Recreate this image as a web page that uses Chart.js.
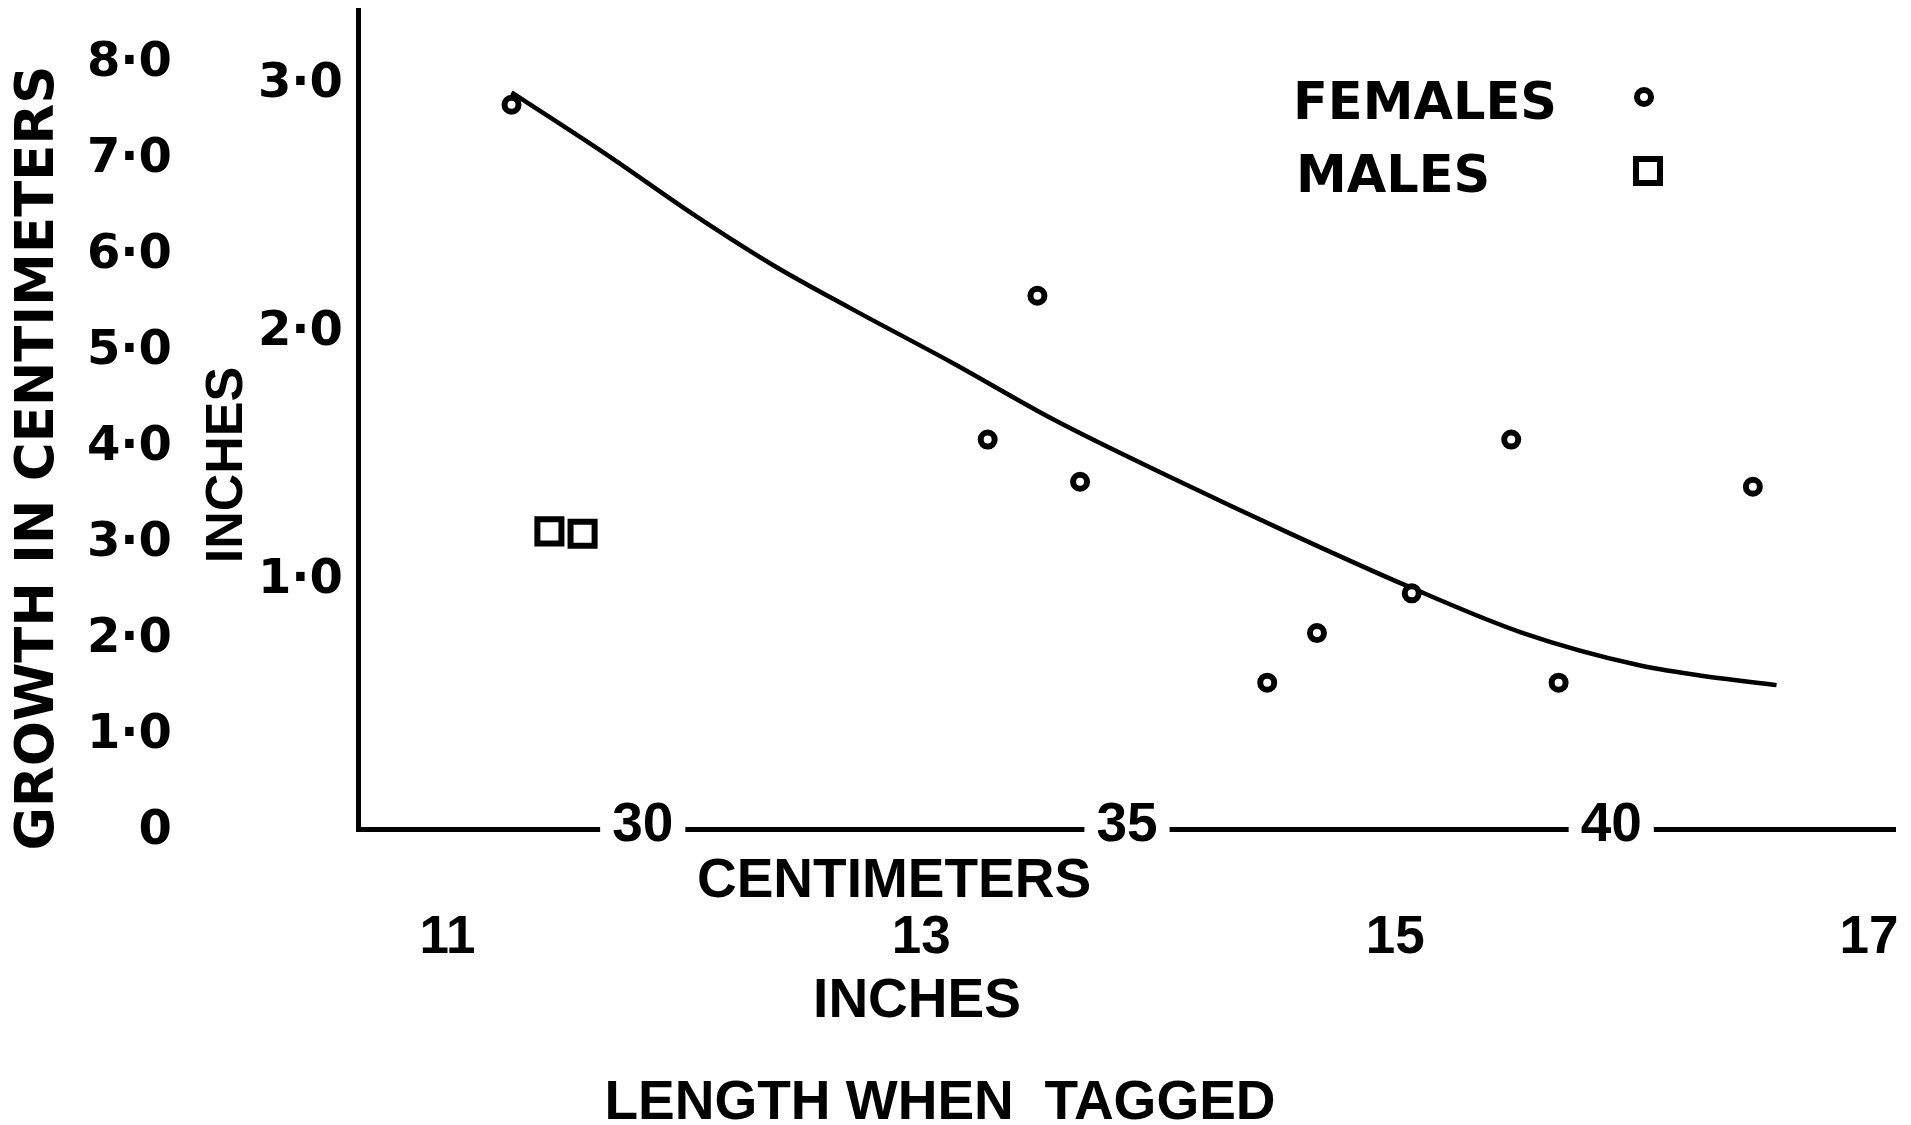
<!DOCTYPE html>
<html>
<head>
<meta charset="utf-8">
<title>Growth by length when tagged</title>
<script src="https://cdn.jsdelivr.net/npm/chart.js@4/dist/chart.umd.min.js"></script>
<style>
  html, body { margin: 0; padding: 0; background: #fff; }
  #wrap { width: 1911px; height: 1125px; position: relative; }
</style>
</head>
<body>
<div id="wrap"><canvas id="chart" width="1911" height="1125"></canvas></div>
<script>
// Length when tagged (inches) and growth (inches) of each recaptured fish.
const femaleLength = [11.27, 13.49, 13.28, 13.67, 15.49, 16.51, 15.07, 14.67, 14.46, 15.69];
const femaleGrowth = [2.92, 2.15, 1.57, 1.40, 1.57, 1.38, 0.95, 0.79, 0.59, 0.59];
const maleLength = [11.43, 11.57];
const maleGrowth = [1.20, 1.19];

// Freehand trend curve drawn through the females.
const curveLength = [11.27, 11.67, 12.05, 12.38, 12.70, 13.13, 13.56, 14.07, 14.56, 15.05, 15.54, 16.03, 16.28, 16.61];
const curveGrowth = [2.97, 2.72, 2.47, 2.27, 2.10, 1.88, 1.65, 1.41, 1.19, 0.98, 0.79, 0.66, 0.62, 0.58];

// Tick values of the four rulers.
const lengthInchTicks = [11, 13, 15, 17];
const lengthCmTicks = [30, 35, 40];
const growthInchTicks = [1, 2, 3];
const growthCmTicks = [0, 1, 2, 3, 4, 5, 6, 7, 8];

// Ranges of the rulers (each one was ruled on its own).
const lengthInchRange = [10.622, 17.11];
const lengthCmRange = [27.06, 42.93];
const growthInchRange = [0, 3.302];
const growthCmRange = [0.029, 8.563];

const INK = '#000';
const WIDE = "'DejaVu Sans', 'Liberation Sans', sans-serif";
const NARROW = "'Liberation Sans', Arial, sans-serif";

const toPoints = (xs, ys) => xs.map((x, i) => ({ x, y: ys[i] }));
const dotDecimal = v => (v === 0 ? '0' : v.toFixed(1).replace('.', '·'));

// Fix the ticks to the listed values.
const useTicks = values => scale => { scale.ticks = values.map(v => ({ value: v })); };
// Give an axis box a fixed size and no extra edge padding.
const fixedBox = (w, h) => scale => {
  if (w !== null) scale.width = w;
  if (h !== null) scale.height = h;
  scale.paddingTop = scale.paddingBottom = scale.paddingLeft = scale.paddingRight = 0;
};
const noGrid = { display: false, drawTicks: false };

// Axis titles and legend, drawn as plain text around the plot.
const LABELS = [
  { text: 'GROWTH IN CENTIMETERS', x: 34, y: 458, size: 53, family: WIDE, cap: 0.729, vertical: true },
  { text: 'INCHES', x: 223, y: 465, size: 52, family: NARROW, cap: 0.716, vertical: true },
  { text: 'CENTIMETERS', x: 894, y: 877, size: 55, family: NARROW, cap: 0.716 },
  { text: 'INCHES', x: 917, y: 997, size: 55, family: NARROW, cap: 0.716 },
  { text: 'LENGTH WHEN  TAGGED', x: 940, y: 1099, size: 55, family: NARROW, cap: 0.716 }
];
const LEGEND = [
  { dataset: 0, textX: 1293, textY: 100, markX: 1644, markY: 97 },
  { dataset: 1, textX: 1296, textY: 173, markX: 1648, markY: 171 }
];
const LEGEND_FONT = { size: 51, family: WIDE, cap: 0.729 };

const textPlugin = {
  id: 'plotText',
  afterDraw(chart) {
    const ctx = chart.ctx;
    ctx.save();
    ctx.fillStyle = INK;
    ctx.textBaseline = 'alphabetic';
    for (const t of LABELS) {
      ctx.font = `bold ${t.size}px ${t.family}`;
      ctx.textAlign = 'center';
      ctx.save();
      ctx.translate(t.x, t.y);
      if (t.vertical) ctx.rotate(-Math.PI / 2);
      ctx.fillText(t.text, 0, t.size * t.cap / 2);
      ctx.restore();
    }
    ctx.font = `bold ${LEGEND_FONT.size}px ${LEGEND_FONT.family}`;
    ctx.textAlign = 'left';
    for (const item of LEGEND) {
      const ds = chart.data.datasets[item.dataset];
      ctx.fillStyle = INK;
      ctx.fillText(ds.label, item.textX, item.textY + LEGEND_FONT.size * LEGEND_FONT.cap / 2);
      ctx.save();
      ctx.fillStyle = ds.pointBackgroundColor;
      ctx.strokeStyle = ds.pointBorderColor;
      ctx.lineWidth = ds.pointBorderWidth;
      Chart.helpers.drawPoint(ctx, {
        pointStyle: ds.pointStyle,
        rotation: 0,
        radius: ds.pointRadius,
        borderWidth: ds.pointBorderWidth
      }, item.markX, item.markY);
      ctx.restore();
    }
    ctx.restore();
  }
};

new Chart(document.getElementById('chart'), {
  type: 'scatter',
  data: {
    datasets: [
      {
        label: 'FEMALES',
        data: toPoints(femaleLength, femaleGrowth),
        xAxisID: 'x', yAxisID: 'y',
        pointStyle: 'circle',
        pointRadius: 7,
        pointBorderWidth: 6,
        pointBackgroundColor: '#fff',
        pointBorderColor: INK,
        order: 0
      },
      {
        label: 'MALES',
        data: toPoints(maleLength, maleGrowth),
        xAxisID: 'x', yAxisID: 'y',
        pointStyle: 'rect',
        pointRadius: 17,
        pointBorderWidth: 6,
        pointBackgroundColor: '#fff',
        pointBorderColor: INK,
        order: 0
      },
      {
        type: 'line',
        label: 'trend',
        data: toPoints(curveLength, curveGrowth),
        xAxisID: 'x', yAxisID: 'y',
        borderColor: INK,
        borderWidth: 4.5,
        pointRadius: 0,
        fill: false,
        showLine: true,
        cubicInterpolationMode: 'monotone',
        order: 2
      }
    ]
  },
  options: {
    responsive: false,
    animation: false,
    events: [],
    devicePixelRatio: 1,
    layout: { autoPadding: false, padding: { top: 10, right: 16, bottom: 0, left: 0 } },
    plugins: { legend: { display: false }, tooltip: { enabled: false } },
    scales: {
      // Centimetre ruler: its numbers sit in gaps of the axis line.
      xcm: {
        type: 'linear', position: 'bottom', bounds: 'data',
        min: lengthCmRange[0], max: lengthCmRange[1],
        afterBuildTicks: useTicks(lengthCmTicks),
        afterFit: fixedBox(null, 76),
        grid: noGrid,
        border: { display: true, width: 5, color: INK },
        ticks: {
          autoSkip: false, maxRotation: 0, minRotation: 0,
          mirror: true, padding: -30,
          showLabelBackdrop: true, backdropColor: '#fff',
          backdropPadding: { top: 0, bottom: 0, left: 12, right: 12 },
          color: INK, font: { family: NARROW, size: 55, weight: 'bold' },
          callback: v => String(v)
        }
      },
      // Inch ruler below it.
      x: {
        type: 'linear', position: 'bottom', bounds: 'data',
        min: lengthInchRange[0], max: lengthInchRange[1],
        afterBuildTicks: useTicks(lengthInchTicks),
        afterFit: fixedBox(null, 220),
        grid: noGrid,
        border: { display: false },
        ticks: {
          autoSkip: false, maxRotation: 0, minRotation: 0, padding: 2,
          color: INK, font: { family: NARROW, size: 53, weight: 'bold' },
          callback: v => String(v)
        }
      },
      // Growth in inches, next to the vertical axis line.
      y: {
        type: 'linear', position: 'left', bounds: 'data',
        min: growthInchRange[0], max: growthInchRange[1],
        afterBuildTicks: useTicks(growthInchTicks),
        afterFit: fixedBox(158, null),
        grid: noGrid,
        border: { display: true, width: 5, color: INK },
        ticks: {
          autoSkip: false, crossAlign: 'center', padding: 15,
          color: INK, font: { family: WIDE, size: 48, weight: 'bold' },
          callback: dotDecimal
        }
      },
      // Growth in centimetres, outer column.
      ycm: {
        type: 'linear', position: 'left', bounds: 'data',
        min: growthCmRange[0], max: growthCmRange[1],
        afterBuildTicks: useTicks(growthCmTicks),
        afterFit: fixedBox(200, null),
        grid: noGrid,
        border: { display: false },
        ticks: {
          autoSkip: false, crossAlign: 'near', padding: 28,
          color: INK, font: { family: WIDE, size: 48, weight: 'bold' },
          callback: dotDecimal
        }
      }
    }
  },
  plugins: [textPlugin]
});
</script>
</body>
</html>
